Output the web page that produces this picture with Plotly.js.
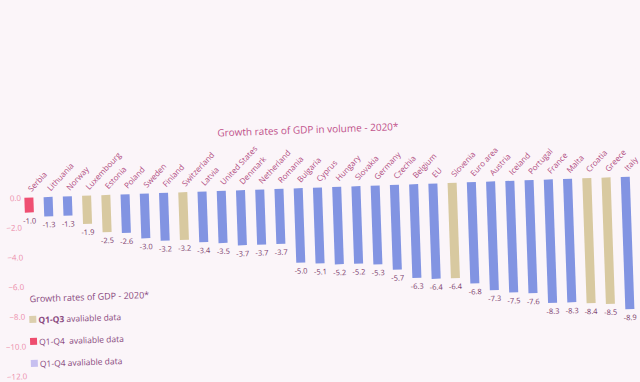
<!DOCTYPE html>
<html><head><meta charset="utf-8">
<script src="https://cdn.plot.ly/plotly-3.0.1.min.js"></script>
<style>
html,body{margin:0;padding:0;background:#fbf5f9;overflow:hidden;width:640px;height:382px;}
#chart{width:640px;height:382px;transform:rotate(-2deg);transform-origin:320px 191px;}
</style></head><body><div id="chart"></div>
<script>
// ---- data ----
const countries = ['Serbia','Lithuania','Norway','Luxembourg','Estonia','Poland','Sweden','Finland','Switzerland','Latvia','United States','Denmark','Netherland','Romania','Bulgaria','Cyprus','Hungary','Slovakia','Germany','Czechia','Belgium','EU','Slovenia','Euro area','Austria','Iceland','Portugal','France','Malta','Croatia','Greece','Italy'];
const growth = [-1.0,-1.3,-1.3,-1.9,-2.5,-2.6,-3.0,-3.2,-3.2,-3.4,-3.5,-3.7,-3.7,-3.7,-5.0,-5.1,-5.2,-5.2,-5.3,-5.7,-6.3,-6.4,-6.4,-6.8,-7.3,-7.5,-7.6,-8.3,-8.3,-8.4,-8.5,-8.9];
const availability = ['Q1-Q4 (red)','Q1-Q4','Q1-Q4','Q1-Q3','Q1-Q3','Q1-Q4','Q1-Q4','Q1-Q4','Q1-Q3','Q1-Q4','Q1-Q4','Q1-Q4','Q1-Q4','Q1-Q4','Q1-Q4','Q1-Q4','Q1-Q4','Q1-Q4','Q1-Q4','Q1-Q4','Q1-Q4','Q1-Q4','Q1-Q3','Q1-Q4','Q1-Q4','Q1-Q4','Q1-Q4','Q1-Q4','Q1-Q4','Q1-Q3','Q1-Q3','Q1-Q4'];
const yTickValues = [0,-2,-4,-6,-8,-10,-12];
const chartTitle = 'Growth rates of GDP in volume - 2020*';
const legendTitle = 'Growth rates of GDP - 2020*';
const legendLabels = ['<b>Q1-Q3</b> avaliable data','Q1-Q4&nbsp; avaliable data','Q1-Q4 avaliable data'];

// ---- styles ----
const barColorMap = {'Q1-Q3':'#d8c9a0','Q1-Q4 (red)':'#ef4f72','Q1-Q4':'#8294e2'};
const legendSwatchColors = ['#dccfae','#ee4d6e','#c6bff0'];
const legendRowsY = [309,331,353];

const L=22, T=185.5, W=618, H=186.3;
const BAR0 = 28.8, STEP = 19.25;
const px = x => (x-L)/W;
const py = y => 1-(y-T)/H;

const trace = {
  type:'bar', x:countries, y:growth,
  marker:{color: availability.map(a=>barColorMap[a])},
  width:0.47,
  texttemplate:'%{y:.1f}', textposition:'outside', cliponaxis:false, constraintext:'none',
  textfont:{size:7.5, color:'#7a3a6a', family:'Open Sans'},
  hoverinfo:'skip', showlegend:false
};

const shapes = legendRowsY.map((y,i)=>({type:'rect', xref:'paper', yref:'paper',
  x0:px(25), x1:px(32), y0:py(y+3.5), y1:py(y-3.5), fillcolor:legendSwatchColors[i], line:{width:0}}));
const annotations = legendRowsY.map((y,i)=>({xref:'paper', yref:'paper', x:px(32), y:py(y),
  xanchor:'left', yanchor:'middle', showarrow:false, text:legendLabels[i],
  font:{size:8.5, color:'#8a4a80', family:'Open Sans'}}));
annotations.push({xref:'paper', yref:'paper', x:px(24), y:py(288), xanchor:'left', yanchor:'middle',
  showarrow:false, text:legendTitle, font:{size:9, color:'#8a4a80', family:'Open Sans'}});

const xStart = -(BAR0-L)/STEP;
const layout = {
  width:640, height:382,
  margin:{l:L, r:640-L-W, t:T, b:382-T-H, pad:0},
  paper_bgcolor:'#fbf5f9', plot_bgcolor:'#fbf5f9',
  font:{family:'Open Sans'},
  title:{text:chartTitle, x:310/640, xanchor:'center', xref:'container', y:1-129.4/382, yanchor:'middle', yref:'container',
    font:{size:10, color:'#c0508a', family:'Open Sans'}},
  xaxis:{side:'top', type:'category', range:[xStart, xStart+W/STEP], tickangle:-45, showgrid:false, zeroline:false,
    showline:false, ticks:'', tickfont:{size:8, color:'#b04a7e'}, automargin:false, fixedrange:true},
  yaxis:{range:[-12.4,0.1], tickvals:yTickValues, tickformat:'.1f', showgrid:false, zeroline:false,
    showline:false, ticks:'', tickfont:{size:8, color:'#ec8eab'}, automargin:false, fixedrange:true},
  shapes:shapes, annotations:annotations, showlegend:false
};
Plotly.newPlot('chart',[trace],layout,{displayModeBar:false, staticPlot:true});
</script></body></html>
